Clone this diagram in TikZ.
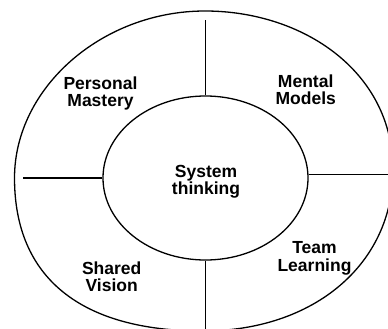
\documentclass[tikz,border=0pt]{standalone}
\usepackage{fontspec}
\setmainfont{Liberation Sans}
\usetikzlibrary{shapes.geometric}
\tikzset{
  ring/.style={line width=1.3pt, black},
  spoke/.style={line width=1.3pt, black},
  core/.style={ellipse, draw, line width=1.3pt, inner sep=0pt,
    minimum width=205pt, minimum height=164pt},
  lab/.style={anchor=north, inner sep=0pt, align=center,
    font=\fontsize{17.5}{17.3}\selectfont\bfseries}
}
\begin{document}
\begin{tikzpicture}[x=1pt,y=-1pt]
\useasboundingbox (0,0) rectangle (388,329);
% outer ring: four quarter curves
\coordinate (oT) at (205,11);
\coordinate (oR) at (393,170);
\coordinate (oB) at (203,331);
\coordinate (oL) at (14.5,178);
\draw[ring] (oT)
  .. controls (302.8,11) and (393,71.4) .. (oR)
  .. controls (393,264) and (314,331) .. (oB)
  .. controls (80.5,331) and (14.5,277.5) .. (oL)
  .. controls (14.5,87.8) and (102.1,11) .. (oT) -- cycle;
% inner ellipse
\node[core] (inner) at (205.5,178) {};
% spoke ends
\coordinate (topend) at (206,20);
\coordinate (botend) at (206,331);
\coordinate (leftend) at (22.7,178);
\coordinate (rightend) at (392,175);
\draw[spoke] (inner.north) -- (inner.north |- topend);
\draw[spoke] (inner.south) -- (inner.south |- botend);
\draw[spoke] (inner.west) -- (leftend);
\draw[spoke] (inner.2) -- (inner.2 -| rightend);
% labels
\node[lab] (pm) at (100.5,76.6) {Personal\\Mastery};
\node[lab] (mm) at (305.7,74.3) {Mental\\Models};
\node[lab] (st) at (206,164.6) {System\\thinking};
\node[lab] (tl) at (314.5,241.6) {Team\\Learning};
\node[lab] (sv) at (111.7,261.6) {Shared\\Vision};
\end{tikzpicture}
\end{document}
